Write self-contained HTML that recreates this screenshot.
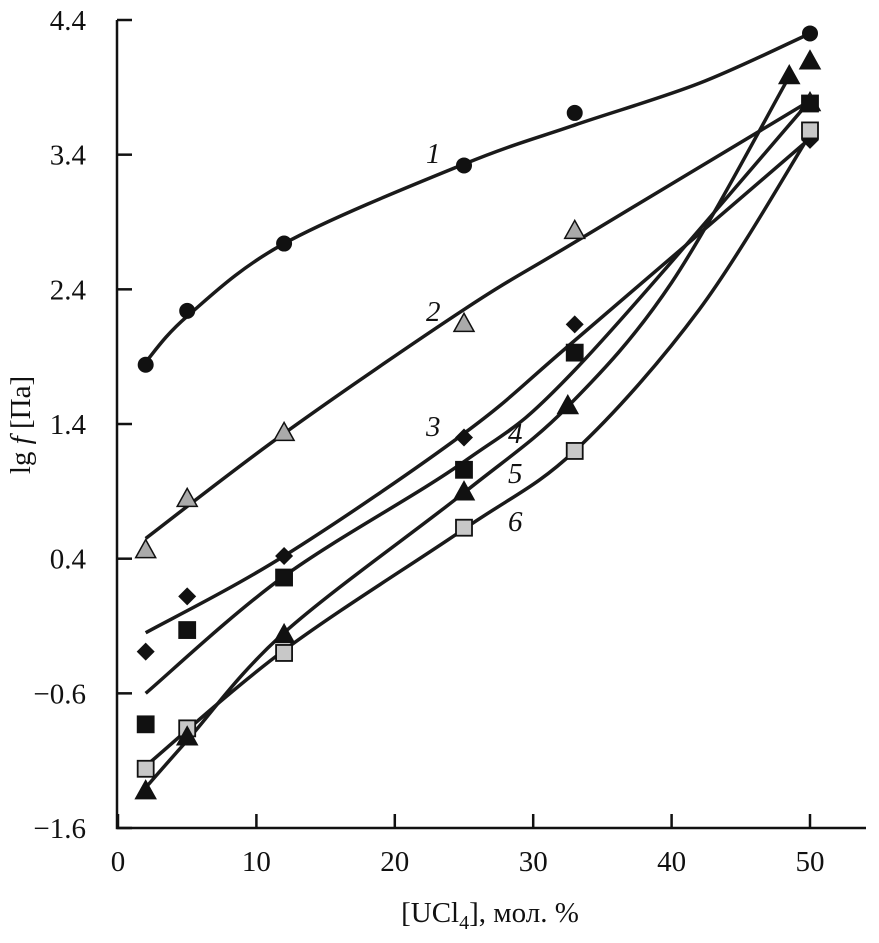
<!DOCTYPE html>
<html><head><meta charset="utf-8"><style>
body{margin:0;background:#fff}
svg{display:block;font-family:"Liberation Serif",serif}
</style></head><body>
<svg id="c" width="879" height="943" viewBox="0 0 879 943">
<g id="axes"></g><g id="curves"></g><g id="marks"></g><g id="labels"></g>
</svg>
<script>
const xTicks=[0,10,20,30,40,50];
const yTicks=[-1.6,-0.6,0.4,1.4,2.4,3.4,4.4];
const yTickLabels=["\u22121.6","\u22120.6","0.4","1.4","2.4","3.4","4.4"];
const s1x=[2,5,12,25,33,50], s1y=[1.84,2.24,2.74,3.32,3.71,4.30];
const s2x=[2,5,12,25,33,50], s2y=[0.46,0.84,1.33,2.14,2.83,3.78];
const s3x=[2,5,12,25,33,50], s3y=[-0.29,0.12,0.42,1.30,2.14,3.51];
const s4x=[2,5,12,25,33,50], s4y=[-0.83,-0.13,0.26,1.06,1.93,3.78];
const s5x=[2,5,12,25,32.5,48.5,50], s5y=[-1.33,-0.93,-0.17,0.89,1.53,3.98,4.09];
const s6x=[2,5,12,25,33,50], s6y=[-1.16,-0.86,-0.30,0.63,1.20,3.58];
const f1x=[2,5,12,25,33,42,50], f1y=[1.86,2.2,2.74,3.33,3.62,3.93,4.30];
const f2x=[2,12,25,33,50], f2y=[0.55,1.33,2.25,2.75,3.80];
const f3x=[2,12,25,33,50], f3y=[-0.15,0.42,1.33,2.02,3.52];
const f4x=[2,12,25,33,50], f4y=[-0.6,0.27,1.12,1.80,3.80];
const f5x=[2,5,12,25,32.5,40,48.5], f5y=[-1.30,-0.95,-0.15,0.89,1.53,2.45,3.98];
const f6x=[2,12,25,33,42,50], f6y=[-1.14,-0.28,0.62,1.20,2.25,3.55];
const X=v=>118+v*13.84, Y=v=>20+(4.4-v)*134.67;
const NS="http://www.w3.org/2000/svg";
function mk(t,a,p){const e=document.createElementNS(NS,t);for(const k in a)e.setAttribute(k,a[k]);p.appendChild(e);return e;}
const ax=document.getElementById('axes'),cv=document.getElementById('curves'),mg=document.getElementById('marks'),lg=document.getElementById('labels');
let e=mk('path',{d:`M117 20V828H866`,fill:'none',stroke:'#111','stroke-width':2.5},ax);


xTicks.forEach(v=>{
 let t=mk('line',{x1:X(v),x2:X(v),y1:828,y2:814,stroke:'#111','stroke-width':2.5},ax);
 
 
 let l=mk('text',{x:X(v),y:871,'text-anchor':'middle','font-size':29,fill:'#111'},ax);l.textContent=v;
 
 
});
yTicks.forEach((v,i)=>{
 let t=mk('line',{x1:117,x2:132,y1:Y(v),y2:Y(v),stroke:'#111','stroke-width':2.5},ax);
 
 
 let l=mk('text',{x:86,y:Y(v)+10,'text-anchor':'end','font-size':29,fill:'#111'},ax);l.textContent=yTickLabels[i];
 
 
});
function smooth(xs,ys){const p=xs.map((x,i)=>[X(x),Y(ys[i])]);let d=`M${p[0][0]} ${p[0][1]}`;
 for(let i=0;i<p.length-1;i++){const p0=p[i-1]||p[i],p1=p[i],p2=p[i+1],p3=p[i+2]||p2;
 d+=` C${p1[0]+(p2[0]-p0[0])/6} ${p1[1]+(p2[1]-p0[1])/6} ${p2[0]-(p3[0]-p1[0])/6} ${p2[1]-(p3[1]-p1[1])/6} ${p2[0]} ${p2[1]}`;}return d;}
[[f1x,f1y],[f2x,f2y],[f3x,f3y],[f4x,f4y],[f5x,f5y],[f6x,f6y]].forEach((f,i)=>{
 let c=mk('path',{d:smooth(f[0],f[1]),fill:'none',stroke:'#1a1a1a','stroke-width':3.5},cv);
 
 
});
function marker(type,fill,x,y,name){const cx=X(x),cy=Y(y);let m;
 if(type==='c')m=mk('circle',{cx,cy,r:8,fill},mg);
 else if(type==='t')m=mk('polygon',{points:`${cx},${cy-11} ${cx-10},${cy+7} ${cx+10},${cy+7}`,fill,stroke:'#111','stroke-width':1.5},mg);
 else if(type==='d')m=mk('polygon',{points:`${cx},${cy-9} ${cx+9},${cy} ${cx},${cy+9} ${cx-9},${cy}`,fill},mg);
 else m=mk('rect',{x:cx-8,y:cy-8,width:16,height:16,fill,stroke:'#111','stroke-width':1.8},mg);
 
 }
s1x.forEach((x,i)=>marker('c','#111',x,s1y[i],'point-series-1'));
s2x.forEach((x,i)=>marker('t','#aaa',x,s2y[i],'point-series-2'));
s3x.forEach((x,i)=>marker('d','#111',x,s3y[i],'point-series-3'));
s4x.forEach((x,i)=>marker('s','#111',x,s4y[i],'point-series-4'));
s6x.forEach((x,i)=>marker('s','#c8c8c8',x,s6y[i],'point-series-6'));
s5x.forEach((x,i)=>marker('t','#111',x,s5y[i],'point-series-5'));
[["1",426,163],["2",426,321],["3",426,436],["4",508,443],["5",508,483],["6",508,531]].forEach(a=>{
 let t=mk('text',{x:a[1],y:a[2],'font-size':29,'font-style':'italic',fill:'#111'},lg);t.textContent=a[0];
 
 
});
</script>
<svg style="position:absolute;left:0;top:0" width="879" height="943">
<text x="490" y="922" text-anchor="middle" font-size="29" fill="#111" font-family="Liberation Serif,serif">[UCl<tspan font-size="20" dy="7">4</tspan><tspan dy="-7">], мол. %</tspan></text>
<text transform="translate(30,425) rotate(-90)" text-anchor="middle" font-size="29" fill="#111" font-family="Liberation Serif,serif">lg <tspan font-style="italic">f</tspan> [Па]</text>
</svg>
</body></html>
